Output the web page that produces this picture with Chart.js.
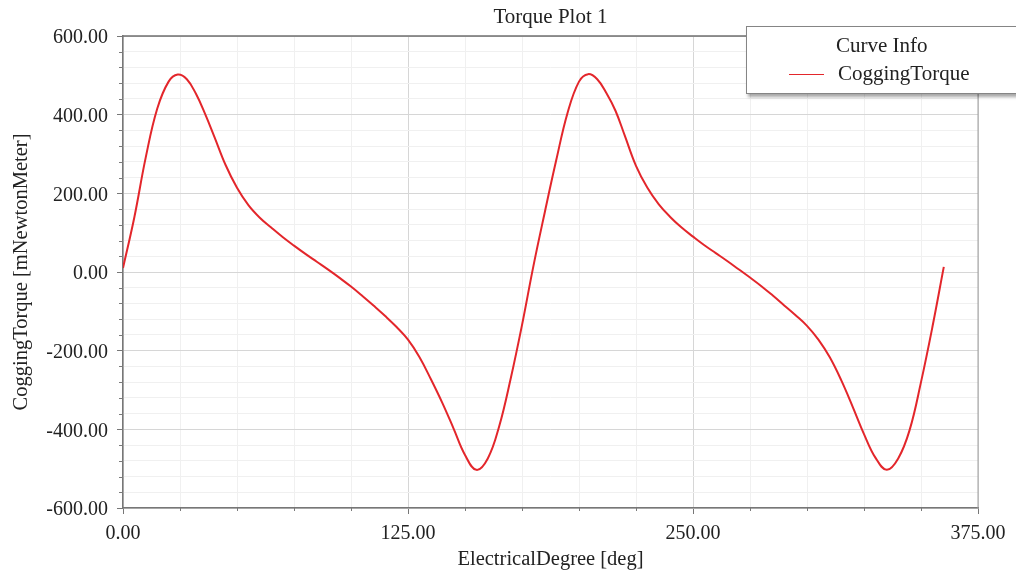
<!DOCTYPE html>
<html lang="en">
<head>
  <meta charset="UTF-8" />
  <title>Torque Plot 1</title>
  <script src="https://cdn.jsdelivr.net/npm/chart.js"></script>
  <style>
    body {
      margin: 0;
      background: #fff;
      overflow: hidden;
      font-family: 'Liberation Serif', serif;
      color: #222;
    }

    .wrap {
      position: relative;
      width: 1016px;
      height: 575px;
    }

    .curve-info {
      position: absolute;
      left: 746px;
      top: 26px;
      width: 300px;
      height: 66px;
      background: #fff;
      border: 1px solid #858585;
      box-shadow: 2px 3px 3px rgba(0,0,0,0.35);
      font-size: 21px;
    }

    .curve-info .head {
      position: absolute;
      left: 89px;
      top: 6px;
    }

    .curve-info .item {
      position: absolute;
      left: 91px;
      top: 34px;
    }

    .curve-info .swatch {
      position: absolute;
      left: 42px;
      top: 47px;
      width: 35px;
      height: 0;
      border-top: 1.5px solid #e3262b;
    }
  </style>
</head>
<body>
  <div class="wrap">
    <canvas id="torqueChart" width="1016" height="575"></canvas>
    <div class="curve-info">
      <span class="head">Curve Info</span>
      <span class="swatch"></span>
      <span class="item">CoggingTorque</span>
    </div>
  </div>

  <script>
    const chartTitle = 'Torque Plot 1';
    const xTitle = 'ElectricalDegree [deg]';
    const yTitle = 'CoggingTorque [mNewtonMeter]';

    // electrical degree / cogging torque (mNm)
    const degrees = [0, 5, 10, 15, 20, 24, 28, 32, 36, 40, 45, 50, 55, 60, 65, 70, 75, 80, 85, 90,
      95, 100, 105, 110, 115, 120, 125, 130, 135, 140, 145, 150, 155, 160, 165, 170, 175, 180,
      185, 190, 195, 200, 204, 208, 212, 216, 220, 225, 230, 235, 240, 245, 250, 255, 260, 265, 270,
      275, 280, 285, 290, 295, 300, 305, 310, 315, 320, 325, 330, 335, 340, 345, 350, 355, 360];
    const torque = [10, 140, 292, 415, 484, 502, 490, 453, 402, 345, 272, 214, 170, 138, 113, 89, 67, 46, 26, 6,
      -15, -37, -61, -86, -112, -140, -172, -216, -272, -332, -398, -465, -503, -474, -392, -272, -135, 15,
      152, 284, 405, 484, 503, 490, 455, 410, 348, 270, 214, 172, 140, 113, 90, 68, 48, 28, 7,
      -14, -36, -60, -85, -110, -137, -172, -217, -275, -342, -412, -472, -503, -474, -402, -280, -140, 13];

    const xMin = 0, xMax = 375, xMajor = 125, xMinor = 25;
    const yMin = -600, yMax = 600, yMajor = 200, yMinor = 40;

    const axisFont = { family: 'Liberation Serif', size: 20 };
    const titleFont = { family: 'Liberation Serif', size: 20.5 };

    // title, top/right frame and short minor ticks
    const framePlugin = {
      id: 'frame',
      afterDraw(chart) {
        const { ctx, chartArea: a, scales: { x, y } } = chart;
        ctx.save();
        ctx.strokeStyle = '#7a7a7a';
        ctx.lineWidth = 1;
        ctx.beginPath();
        x.ticks.filter(t => t.value % xMajor !== 0).forEach(t => {
          const px = Math.round(x.getPixelForValue(t.value)) + 0.5;
          ctx.moveTo(px, a.bottom);
          ctx.lineTo(px, a.bottom + 3);
        });
        y.ticks.filter(t => t.value % yMajor !== 0).forEach(t => {
          const py = Math.round(y.getPixelForValue(t.value)) + 0.5;
          ctx.moveTo(a.left - 4, py);
          ctx.lineTo(a.left, py);
        });
        ctx.stroke();

        ctx.lineWidth = 1.5;
        ctx.strokeStyle = '#6f6f6f';
        ctx.beginPath();
        ctx.moveTo(a.left, a.top);
        ctx.lineTo(a.right, a.top);
        ctx.stroke();
        ctx.strokeStyle = '#a0a0a0';
        ctx.lineWidth = 1;
        ctx.beginPath();
        ctx.moveTo(a.right, a.top);
        ctx.lineTo(a.right, a.bottom);
        ctx.stroke();

        ctx.fillStyle = '#222';
        ctx.font = '21px "Liberation Serif"';
        ctx.textAlign = 'center';
        ctx.textBaseline = 'middle';
        ctx.fillText(chartTitle, (a.left + a.right) / 2, 17);
        ctx.restore();
      }
    };

    new Chart(document.getElementById('torqueChart'), {
      type: 'line',
      data: {
        datasets: [{
          label: 'CoggingTorque',
          data: degrees.map((d, i) => ({ x: d, y: torque[i] })),
          borderColor: '#e3262b',
          borderWidth: 2,
          pointRadius: 0,
          tension: 0.4,
          fill: false
        }]
      },
      options: {
        responsive: false,
        animation: false,
        layout: { padding: { top: 36, right: 38, left: 0, bottom: 0 } },
        plugins: {
          legend: { display: false },
          tooltip: { enabled: false }
        },
        scales: {
          x: {
            type: 'linear',
            min: xMin,
            max: xMax,
            afterFit(scale) { scale.height = 67; },
            border: { color: '#777', width: 1.5 },
            grid: {
              color: c => c.tick && c.tick.value % xMajor === 0 ? '#d6d6d6' : '#f0f0f0',
              tickColor: c => c.tick && c.tick.value % xMajor === 0 ? '#777' : 'rgba(0,0,0,0)',
              tickLength: 6
            },
            ticks: {
              stepSize: xMinor,
              autoSkip: false,
              maxRotation: 0,
              padding: 8,
              color: '#222',
              font: axisFont,
              callback: v => v % xMajor === 0 ? v.toFixed(2) : ''
            },
            title: {
              display: true,
              text: xTitle,
              color: '#222',
              font: titleFont,
              padding: { top: 3, bottom: 3 }
            }
          },
          y: {
            min: yMin,
            max: yMax,
            afterFit(scale) { scale.width = 123; },
            border: { color: '#777', width: 1.5 },
            grid: {
              color: c => c.tick && c.tick.value % yMajor === 0 ? '#d6d6d6' : '#f0f0f0',
              tickColor: c => c.tick && c.tick.value % yMajor === 0 ? '#777' : 'rgba(0,0,0,0)',
              tickLength: 6
            },
            ticks: {
              stepSize: yMinor,
              autoSkip: false,
              padding: 9,
              labelOffset: 2,
              color: '#222',
              font: axisFont,
              callback: v => v % yMajor === 0 ? v.toFixed(2) : ''
            },
            title: {
              display: true,
              text: yTitle,
              color: '#222',
              font: titleFont,
              padding: { top: 9, bottom: 0 }
            }
          }
        }
      },
      plugins: [framePlugin]
    });
  </script>
</body>
</html>
